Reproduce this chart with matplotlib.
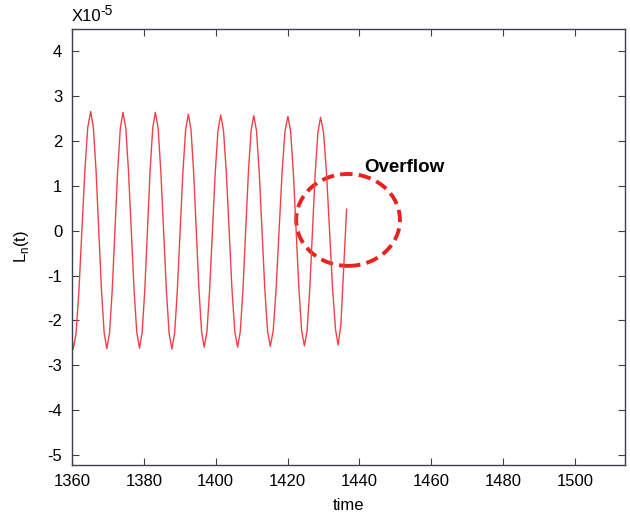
import matplotlib
matplotlib.use("Agg")
import matplotlib.pyplot as plt
from matplotlib.patches import Ellipse

plt.rcParams['font.family'] = ['Liberation Sans', 'DejaVu Sans']
plt.rcParams['axes.unicode_minus'] = False

# L_n(t) values in units of 1e-5
time = [1360.0, 1360.3,
        1361.12, 1361.93, 1362.75, 1363.57, 1364.38, 1365.2,
        1365.95, 1366.7, 1367.45, 1368.2, 1368.95, 1369.7,
        1370.45, 1371.2, 1371.95, 1372.7, 1373.45, 1374.2,
        1374.97, 1375.73, 1376.5, 1377.27, 1378.03, 1378.8,
        1379.53, 1380.27, 1381.0, 1381.73, 1382.47, 1383.2,
        1383.97, 1384.73, 1385.5, 1386.27, 1387.03, 1387.8,
        1388.57, 1389.33, 1390.1, 1390.87, 1391.63, 1392.4,
        1393.13, 1393.87, 1394.6, 1395.33, 1396.07, 1396.8,
        1397.57, 1398.33, 1399.1, 1399.87, 1400.63, 1401.4,
        1402.18, 1402.97, 1403.75, 1404.53, 1405.32, 1406.1,
        1406.85, 1407.6, 1408.35, 1409.1, 1409.85, 1410.6,
        1411.37, 1412.13, 1412.9, 1413.67, 1414.43, 1415.2,
        1416.02, 1416.83, 1417.65, 1418.47, 1419.28, 1420.1,
        1420.87, 1421.63, 1422.4, 1423.17, 1423.93, 1424.7,
        1425.45, 1426.2, 1426.95, 1427.7, 1428.45, 1429.2,
        1430.03, 1430.87, 1431.7, 1432.53, 1433.37, 1434.1,
        1434.85, 1435.6, 1436.45]
ln_scaled = [-2.40, -2.65,
             -2.30, -1.33, 0.0, 1.33, 2.30, 2.66,
             2.30, 1.33, 0.0, -1.32, -2.28, -2.63,
             -2.28, -1.32, 0.0, 1.32, 2.29, 2.64,
             2.29, 1.32, 0.0, -1.31, -2.27, -2.62,
             -2.27, -1.31, 0.0, 1.32, 2.29, 2.64,
             2.29, 1.32, 0.0, -1.32, -2.29, -2.64,
             -2.29, -1.32, 0.0, 1.30, 2.25, 2.60,
             2.25, 1.30, 0.0, -1.30, -2.25, -2.60,
             -2.25, -1.30, 0.0, 1.29, 2.23, 2.58,
             2.23, 1.29, 0.0, -1.30, -2.25, -2.60,
             -2.25, -1.30, 0.0, 1.29, 2.23, 2.57,
             2.23, 1.29, 0.0, -1.29, -2.23, -2.58,
             -2.23, -1.29, 0.0, 1.28, 2.21, 2.55,
             2.21, 1.28, 0.0, -1.29, -2.23, -2.57,
             -2.23, -1.29, 0.0, 1.27, 2.19, 2.53,
             2.19, 1.27, 0.0, -1.28, -2.21, -2.55,
             -2.10, -0.90, 0.48]

xticks = [1360, 1380, 1400, 1420, 1440, 1460, 1480, 1500]
yticks = [-5, -4, -3, -2, -1, 0, 1, 2, 3, 4]

fig = plt.figure(figsize=(6.3, 5.13), dpi=100)
ax = fig.add_axes([0.1143, 0.0942, 0.878, 0.8493])

ax.plot(time, ln_scaled, color='#f2404a', lw=1.0)

# dashed circle marking the overflow
ax.add_patch(Ellipse((1436.85, 0.24), 28.9, 2.05, fill=False,
                     edgecolor='#e8231f', lw=2.8, linestyle=(0, (3.2, 1.6))))
ax.text(1441.5, 1.22, 'Overflow', fontsize=13.5, fontweight='bold',
        ha='left', va='bottom', color='black')

ax.set_xlim(1360, 1514)
ax.set_ylim(-5.22, 4.5)
ax.set_xticks(xticks)
ax.set_yticks(yticks)
ax.tick_params(direction='in', top=True, right=True, labelsize=12,
               length=5, color='#3c3f4f')
ax.tick_params(axis='x', pad=7)
ax.tick_params(axis='y', pad=7)
for s in ax.spines.values():
    s.set_color('#3c3f4f')
    s.set_linewidth(1.0)

ax.set_xlabel('time', fontsize=12, labelpad=6)
ax.set_ylabel(r'L$_\mathregular{n}$(t)', fontsize=12, labelpad=12)
ax.text(0.0, 1.019, 'X10', transform=ax.transAxes,
        fontsize=12, ha='left', va='baseline')
ax.text(0.051, 1.032, '-5', transform=ax.transAxes,
        fontsize=10, ha='left', va='baseline')

fig.savefig('out.png', dpi=100)
